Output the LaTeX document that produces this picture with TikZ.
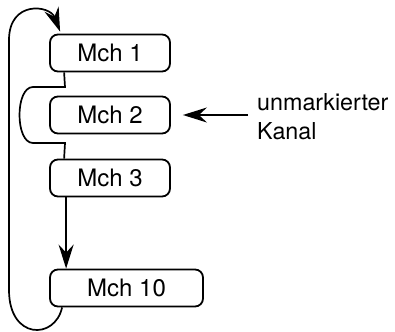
\documentclass[tikz,border=0pt]{standalone}
\usepackage{fontspec}
\setmainfont{TeX Gyre Heros}
\usepackage{tikz}
\usetikzlibrary{arrows.meta}

\begin{document}
\begin{tikzpicture}[x=1pt, y=-1pt,
        chbox/.style={draw, line width=1.8pt, rounded corners=8pt, minimum height=37pt, inner sep=0pt, font=\fontsize{24}{28}\selectfont},
        link/.style={line width=1.7pt},
        tip/.style={-{Stealth[length=24pt, width=15pt, inset=8pt]}}]
        \useasboundingbox (0,0) rectangle (395,331);
        \node[chbox, minimum width=120pt] (mch1) at (110,53) {Mch 1};
        \node[chbox, minimum width=120pt] (mch2) at (110,115) {Mch 2};
        \node[chbox, minimum width=120pt] (mch3) at (110,178) {Mch 3};
        \node[chbox, minimum width=153pt] (mch10) at (126.5,288) {Mch 10};
        \node[anchor=west, align=left, inner sep=0pt, font=\fontsize{23.3}{29}\selectfont] (kanal) at (257,117) {unmarkierter\\Kanal};

        \draw[link] ([xshift=15pt]mch1.south west) -- (65,87) -- (33,87) .. controls (15,87) and (15,143) .. (33,143) -- (65,143) -- ([xshift=15pt]mch3.north west);
        \draw[link, tip] ([xshift=17pt]mch3.south west) -- ([xshift=17pt]mch10.north west);
        \draw[link, tip] ([xshift=13pt]mch10.south west) .. controls (55,340) and (9,340) .. (9,290) -- (9,40) .. controls (9,0) and (50,5) .. ([xshift=11pt, yshift=2pt]mch1.north west);
        \draw[link, tip] ([xshift=-9pt]kanal.west |- mch2.east) -- ([xshift=12pt]mch2.east);
    \end{tikzpicture}
\end{document}
